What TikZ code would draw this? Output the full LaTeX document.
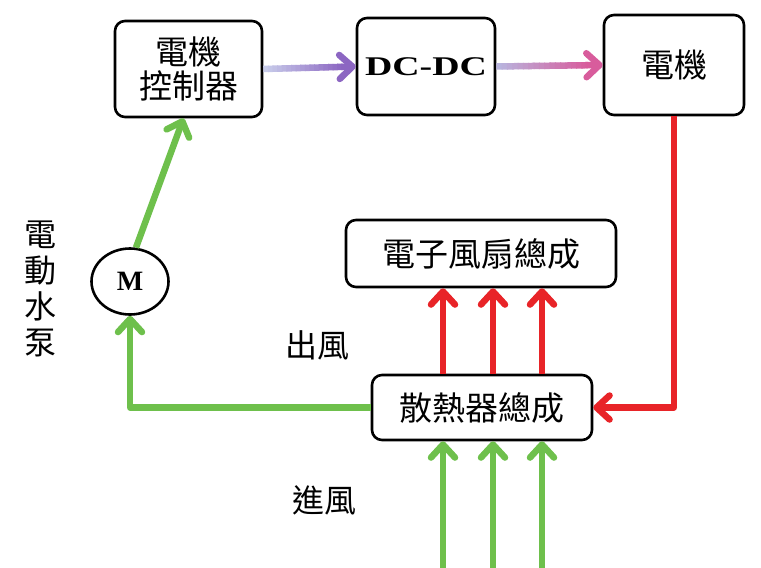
\documentclass[tikz,border=0pt]{standalone}
\usepackage{fontspec}
\newfontfamily\cjk{Noto Sans CJK TC}
\newfontfamily\timesfont{Liberation Serif}
\usetikzlibrary{positioning}
\usetikzlibrary{calc}
\usetikzlibrary{arrows.meta}
\usetikzlibrary{shapes.geometric}
\definecolor{coolgreen}{RGB}{110,192,76}
\definecolor{hotred}{RGB}{232,36,40}
\definecolor{lavA}{RGB}{200,204,234}
\definecolor{purpA}{RGB}{140,102,194}
\definecolor{lavB}{RGB}{184,180,222}
\definecolor{pinkB}{RGB}{216,92,156}
\tikzset{unitbox/.style={draw, line width=2.6pt, rounded corners=10pt, align=center,
inner sep=0pt, font=\cjk\fontsize{33}{34}\selectfont},
flowarr/.style={line width=6.5pt, line join=round, -{Straight Barb[length=13pt,width=24pt,round]}},
hotarr/.style={flowarr, hotred},
coolarr/.style={flowarr, coolgreen},
cjklabel/.style={font=\cjk\fontsize{32}{36}\selectfont, align=center}}

\begin{document}
\begin{tikzpicture}[x=1pt, y=-1pt]
	\useasboundingbox (0,0) rectangle (761,568);
	\node[unitbox, minimum width=147pt, minimum height=96pt] (ctrl) at (188.5,69) {電機\\控制器};
	\node[unitbox, minimum width=138pt, minimum height=97pt, font=\timesfont\bfseries\fontsize{27}{27}\selectfont] (dcdc) at (426,66.5) {\scalebox{1.4}[1]{DC-DC}};
	\node[unitbox, minimum width=140pt, minimum height=100pt] (motor) at (674,65) {電機};
	\node[unitbox, minimum width=270pt, minimum height=67pt] (fan) at (481,253.5) {電子風扇總成};
	\node[unitbox, minimum width=220pt, minimum height=65pt] (rad) at (482,407.5) {散熱器總成};
	\node[draw, ellipse, line width=2.6pt, minimum width=77pt, minimum height=66pt, inner sep=0pt,
		font=\timesfont\bfseries\fontsize{28}{28}\selectfont] (pump) at (130,281.5) {M};
	\node[cjklabel] (pumptxt) at (40,289) {電\\動\\水\\泵};
	\node[cjklabel] (outair) at (317,345) {出風};
	\node[cjklabel] (inair) at (324,500) {進風};
	\coordinate (edge) at (0,568);

	\foreach \i in {0,...,16}{
		\pgfmathtruncatemacro{\p}{100-6*\i}
		\draw[line width=6.5pt, color=lavA!\p!purpA] ($(ctrl.east)!\i/20!(dcdc.west)$) -- ($(ctrl.east)!\i/20+0.06!(dcdc.west)$);
		\draw[line width=6.5pt, color=lavB!\p!pinkB] ($(dcdc.east)!\i/20!(motor.west)$) -- ($(dcdc.east)!\i/20+0.06!(motor.west)$);
	}
	\draw[flowarr, purpA] ($(ctrl.east)!0.84!(dcdc.west)$) -- (dcdc.west);
	\draw[flowarr, pinkB] ($(dcdc.east)!0.84!(motor.west)$) -- (motor.west);

	\draw[hotarr] (motor.south) |- (rad.east);
	\foreach \dx [count=\i] in {-39,11,60}{
		\coordinate (up\i) at ([xshift=\dx pt]rad.north);
		\coordinate (in\i) at ([xshift=\dx pt]rad.south);
		\draw[hotarr] (up\i) -- (up\i |- fan.south);
		\draw[coolarr] (in\i |- edge) -- (in\i);
	}
	\draw[coolarr] (rad.west) -| (pump.south);
	\draw[coolarr] (pump.80) -- ([xshift=-5pt]ctrl.south);
\end{tikzpicture}
\end{document}
